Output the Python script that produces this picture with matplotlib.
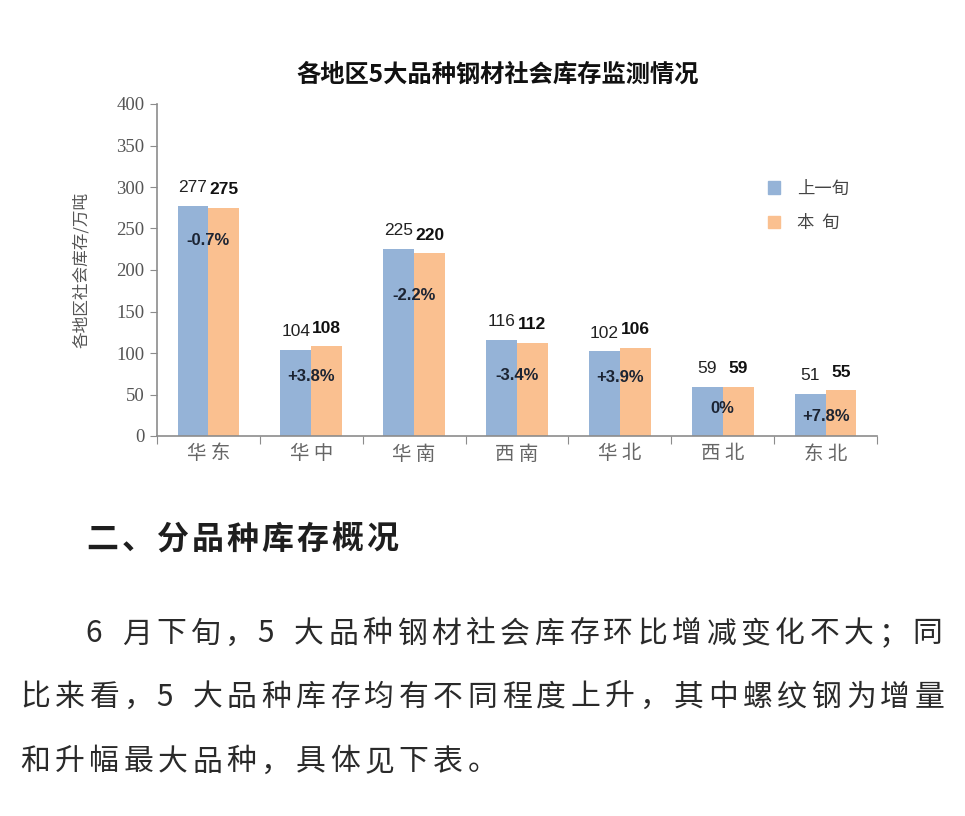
import matplotlib
matplotlib.use("Agg")
import matplotlib.pyplot as plt
import numpy as np
from matplotlib.patches import Patch

plt.rcParams['font.family'] = ['Noto Sans CJK SC', 'DejaVu Sans']

# ---- data ----
regions = ["华东", "华中", "华南", "西南", "华北", "西北", "东北"]
prev_dekad = [277, 104, 225, 116, 102, 59, 51]
this_dekad = [275, 108, 220, 112, 106, 59, 55]
pct_change = ["-0.7%", "+3.8%", "-2.2%", "-3.4%", "+3.9%", "0%", "+7.8%"]
series_names = ["上一旬", "本  旬"]
title = "各地区5大品种钢材社会库存监测情况"
ylabel = "各地区社会库存/万吨"
heading = "二、分品种库存概况"
para_lines = [
    "6 月下旬，5 大品种钢材社会库存环比增减变化不大；同",
    "比来看，5 大品种库存均有不同程度上升，其中螺纹钢为增量",
    "和升幅最大品种，具体见下表。",
]

# ---- layout / style ----
W, H = 965, 816
fig = plt.figure(figsize=(W / 100, H / 100), dpi=100)
fig.patch.set_facecolor("white")

def fx(px):
    return px / W

def fy(py):
    return 1 - py / H

ax = fig.add_axes([fx(157), fy(436), fx(877) - fx(157), fy(104) - fy(436)])
blue = "#95B3D7"
orange = "#FAC090"
axis_col = "#8c8c8c"

x = np.arange(len(regions))
bw = 0.3
ax.bar(x - bw / 2, prev_dekad, bw, color=blue, label=series_names[0], zorder=2)
ax.bar(x + bw / 2, this_dekad, bw, color=orange, label=series_names[1], zorder=2)

ax.set_xlim(-0.5, len(regions) - 0.5)
ax.set_ylim(0, 400)
ax.set_yticks(np.arange(0, 401, 50))
for s in ["top", "right"]:
    ax.spines[s].set_visible(False)
for s in ["left", "bottom"]:
    ax.spines[s].set_color(axis_col)
    ax.spines[s].set_linewidth(1.2)

ax.tick_params(axis="y", direction="out", length=5, color=axis_col, labelsize=13.5,
               labelcolor="#555555", pad=4)
for lab in ax.get_yticklabels():
    lab.set_fontfamily("Liberation Serif")

# category boundary ticks on x axis
ax.set_xticks(np.arange(-0.5, len(regions) + 0.5, 1.0))
ax.set_xticklabels([])
ax.tick_params(axis="x", direction="out", length=6, color=axis_col)
for i, r in enumerate(regions):
    ax.text(i, -9, " ".join(r), ha="center", va="top", fontsize=14,
            color="#666666", transform=ax.transData)

# value labels
for i in range(len(regions)):
    ax.text(i - bw / 2, prev_dekad[i] + 13, str(prev_dekad[i]), ha="center", va="bottom",
            fontsize=12.5, family=["Liberation Sans"], color="#222222")
    ax.text(i + bw / 2, this_dekad[i] + 13, str(this_dekad[i]), ha="center", va="bottom",
            fontsize=12.5, fontweight="bold", family=["Liberation Sans"], color="#111111")

# percentage labels (vertical positions in axis units)
pct_y = [236, 72, 169, 73, 70, 33, 24]
for i in range(len(regions)):
    ax.text(i, pct_y[i], pct_change[i], ha="center", va="center", fontsize=12,
            fontweight="bold", family=["Liberation Sans"], color="#1c2433")

ax.set_ylabel(ylabel, fontsize=12, color="#555555")
ax.yaxis.set_label_coords(fx(90), 0.5 * (fy(104) + fy(436)),
                          transform=fig.transFigure)

leg = ax.legend(handles=[Patch(color=blue), Patch(color=orange)], labels=series_names,
                loc="upper left", bbox_to_anchor=(fx(752), fy(164)),
                bbox_transform=fig.transFigure, frameon=False, fontsize=12.5,
                handlelength=0.7, handleheight=0.7, handletextpad=1.0,
                labelspacing=0.95, labelcolor="#444444")

fig.text(fx(498), fy(75), title, ha="center", va="center", fontsize=17.5,
         fontweight="bold", color="#111111")

# ---- article text below ----
def draw_spaced(text, x0, y0, pitch, size, weight="normal", color="#2a2a2a"):
    xpos = x0
    i = 0
    while i < len(text):
        ch = text[i]
        if ch.isascii() and ch != " ":
            # half-width char followed by space occupies one full pitch
            fig.text(fx(xpos + pitch * 0.25), fy(y0), ch, ha="center", va="center",
                     fontsize=size, fontweight=weight, color=color)
            if i + 1 < len(text) and text[i + 1] == " ":
                i += 1
            xpos += pitch
        else:
            fig.text(fx(xpos + pitch / 2), fy(y0), ch, ha="center", va="center",
                     fontsize=size, fontweight=weight, color=color)
            xpos += pitch
        i += 1

draw_spaced(heading, 85, 540, 35.0, 23, weight="bold", color="#1e1e1e")
draw_spaced(para_lines[0], 85, 634, 34.4, 21.5)
draw_spaced(para_lines[1], 18, 697, 34.4, 21.5)
draw_spaced(para_lines[2], 18, 762, 34.4, 21.5)

fig.savefig("out.png", dpi=100, facecolor="white")
